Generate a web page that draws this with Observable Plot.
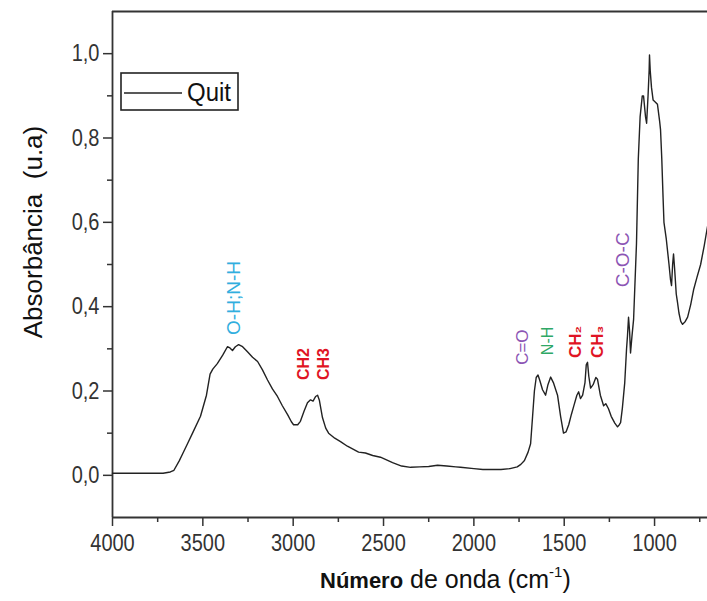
<!DOCTYPE html>
<html><head><meta charset="utf-8">
<script src="https://cdn.jsdelivr.net/npm/d3@7"></script>
<script src="https://cdn.jsdelivr.net/npm/@observablehq/plot@0.6"></script>
<style>
body{margin:0;background:#fff;}
svg{font-family:"Liberation Sans",Arial,sans-serif;}
</style></head><body><div id="chart"></div>
<script>
// ---- data ----
const wavenumber = [4000,3720,3680,3660,3630,3613,3585,3557,3513,3480,3460,3445,3420,3390,3364,3350,3336,3320,3302,3280,3253,3225,3197,3170,3142,3115,3087,3060,3031,3010,2998,2975,2960,2940,2921,2904,2890,2876,2865,2855,2838,2820,2804,2770,2738,2700,2638,2600,2560,2517,2450,2400,2350,2300,2250,2201,2150,2100,2074,2000,1950,1900,1850,1800,1760,1740,1720,1700,1686,1675,1665,1655,1645,1635,1620,1603,1590,1575,1560,1537,1520,1504,1490,1475,1460,1448,1430,1420,1410,1398,1385,1378,1371,1364,1354,1340,1325,1316,1300,1282,1270,1255,1240,1220,1205,1195,1188,1178,1165,1155,1150,1144,1138,1133,1125,1116,1100,1090,1080,1068,1061,1050,1044,1036,1030,1028,1024,1017,1008,995,984,972,967,960,953,948,935,920,912,906,900,895,889,880,873,865,855,845,830,817,800,784,765,745,725,707];
const absorbance = [0.005,0.005,0.008,0.012,0.035,0.05,0.075,0.10,0.14,0.19,0.24,0.252,0.265,0.285,0.305,0.302,0.296,0.305,0.31,0.305,0.293,0.28,0.27,0.25,0.226,0.205,0.187,0.165,0.144,0.127,0.12,0.12,0.128,0.152,0.172,0.179,0.176,0.187,0.19,0.178,0.137,0.112,0.10,0.088,0.08,0.069,0.055,0.053,0.047,0.043,0.03,0.022,0.019,0.02,0.021,0.024,0.022,0.02,0.019,0.016,0.014,0.014,0.014,0.016,0.02,0.026,0.035,0.055,0.075,0.14,0.2,0.232,0.238,0.225,0.203,0.19,0.215,0.233,0.22,0.19,0.14,0.10,0.103,0.12,0.145,0.163,0.19,0.198,0.182,0.19,0.22,0.262,0.268,0.235,0.207,0.215,0.232,0.228,0.19,0.165,0.17,0.158,0.14,0.124,0.115,0.12,0.125,0.16,0.22,0.3,0.33,0.375,0.34,0.29,0.33,0.37,0.55,0.75,0.85,0.90,0.90,0.85,0.835,0.90,0.96,0.997,0.96,0.92,0.89,0.885,0.88,0.84,0.82,0.75,0.66,0.60,0.56,0.50,0.465,0.45,0.50,0.525,0.49,0.43,0.41,0.385,0.365,0.358,0.365,0.375,0.405,0.44,0.47,0.50,0.545,0.59];
const seriesName = "Quit";
const xTicks = [4000,3500,3000,2500,2000,1500,1000];
const xMinorTicks = [3750,3250,2750,2250,1750,1250,750];
const yTicks = [0,0.2,0.4,0.6,0.8,1.0];
const yMinorTicks = [0.1,0.3,0.5,0.7,0.9];
const bandLabels = ["O-H;N-H","CH2","CH3","C=O","N-H","CH\u2082","CH\u2083","C-O-C"];
const bandWavenumbers = [3330,2943,2832,1731,1592,1437,1316,1177];
const bandBase = [0.333,0.226,0.226,0.262,0.285,0.278,0.278,0.446];
const bandColors = ["#31aede","#e01424","#e01424","#8c55b4","#2fa866","#e01424","#e01424","#8c55b4"];
const bandBold = [false,true,true,false,false,true,true,false];
const bandSize = [19,16,16,17,16,17,17,19];

const data = wavenumber.map((w,i)=>({w, a: absorbance[i]}));
const bands = bandLabels.map((t,i)=>({t, w: bandWavenumbers[i], y: bandBase[i], c: bandColors[i], b: bandBold[i], s: bandSize[i]}));

const axisColor = "#333";
const plot = Plot.plot({
  width: 707, height: 601,
  marginLeft: 112, marginRight: 0, marginTop: 11, marginBottom: 84,
  x: {domain: [4000, 707]},
  y: {domain: [-0.1, 1.1]},
  color: {type: "identity"},
  style: {fontFamily: "Liberation Sans, Arial, sans-serif", background: "#fff"},
  marks: [
    Plot.axisX({ticks: xTicks, tickSize: 9, tickPadding: 7, tickFormat: d => String(d), fontSize: 20, label: null, stroke: axisColor, fill: axisColor, strokeWidth: 1.5}),
    Plot.axisX({ticks: xMinorTicks, tickSize: 5, tickFormat: () => "", label: null, stroke: axisColor, strokeWidth: 1.5}),
    Plot.axisY({ticks: yTicks, tickSize: 9, tickPadding: 4, tickFormat: d => d.toFixed(1).replace(".", ","), fontSize: 20, label: null, stroke: axisColor, fill: axisColor, strokeWidth: 1.5}),
    Plot.axisY({ticks: yMinorTicks, tickSize: 5, tickFormat: () => "", label: null, stroke: axisColor, strokeWidth: 1.5}),
    Plot.ruleX([4000], {stroke: axisColor, strokeWidth: 1.8}),
    Plot.ruleY([-0.1], {stroke: axisColor, strokeWidth: 1.8}),
    Plot.ruleY([1.1], {stroke: axisColor, strokeWidth: 1.8}),
    Plot.line(data, {x: "w", y: "a", stroke: "#222", strokeWidth: 1.4}),
    Plot.text(bands.filter(d => !d.b), {x: "w", y: "y", text: "t", rotate: -90, textAnchor: "start", fill: "c", fontSize: "s"}),
    Plot.text(bands.filter(d => d.b), {x: "w", y: "y", text: "t", rotate: -90, textAnchor: "start", fill: "c", fontSize: "s", fontWeight: "bold"})
  ]
});

// tall tick labels (reference glyphs are vertically stretched)
d3.select(plot).selectAll('g[aria-label="x-axis tick label"] text, g[aria-label="y-axis tick label"] text').each(function() {
  const t = this.getAttribute("transform") || "";
  if (t) this.setAttribute("transform", t + " scale(1,1.2)");
});

const svg = d3.select(plot);
// legend
const lg = svg.append("g").attr("text-anchor", "start");
lg.append("rect").attr("x", 121).attr("y", 73).attr("width", 117).attr("height", 37)
  .attr("fill", "#fff").attr("stroke", "#222").attr("stroke-width", 1.6);
lg.append("line").attr("x1", 124).attr("x2", 182).attr("y1", 93).attr("y2", 93)
  .attr("stroke", "#222").attr("stroke-width", 1.4);
lg.append("text").attr("text-anchor", "start").attr("font-size", 24).attr("fill", "#111")
  .attr("transform", "translate(187,101) scale(1,1.1)").text(seriesName);

// x title
const xt = svg.append("text").attr("text-anchor", "start").attr("x", 320).attr("y", 588).attr("fill", "#111");
xt.append("tspan").attr("font-weight", "bold").attr("font-size", 22).text("Número");
xt.append("tspan").attr("font-size", 25).text(" de onda (cm");
xt.append("tspan").attr("font-size", 15).attr("dy", -11).text("-1");
xt.append("tspan").attr("font-size", 25).attr("dy", 11).text(")");

// y title
svg.append("text").attr("transform", "translate(42,232) rotate(-90)").attr("text-anchor", "middle")
  .attr("font-size", 26).attr("fill", "#111").text("Absorbância\u00a0 (u.a)");

document.getElementById("chart").appendChild(plot);
</script></body></html>
